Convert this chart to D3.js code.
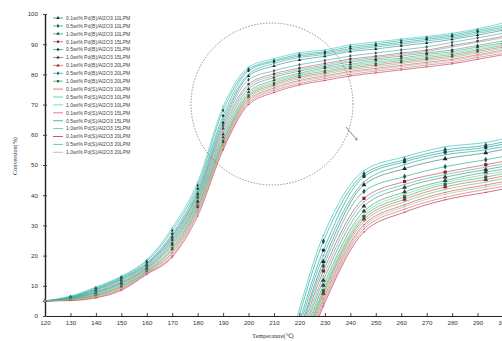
<!DOCTYPE html>
<html>
<head>
<meta charset="utf-8">
<script src="https://cdn.jsdelivr.net/npm/d3@7"></script>
<style>
  body { margin: 0; background: #fff; }
  svg { display: block; }
</style>
</head>
<body>
<div id="chart"></div>
<script>
const temps = [120, 130, 140, 150, 160, 170, 180, 190, 200, 210, 220, 230, 240, 250, 260, 270, 280, 290, 300];
const xTicks = [120, 130, 140, 150, 160, 170, 180, 190, 200, 210, 220, 230, 240, 250, 260, 270, 280, 290, 300];
const yTicks = [0, 10, 20, 30, 40, 50, 60, 70, 80, 90, 100];

const seriesNames = [
  "0.1wt% Pd(B)/Al2O3 10LPM", "0.5wt% Pd(B)/Al2O3 10LPM", "1.0wt% Pd(B)/Al2O3 10LPM",
  "0.1wt% Pd(B)/Al2O3 15LPM", "0.5wt% Pd(B)/Al2O3 15LPM", "1.0wt% Pd(B)/Al2O3 15LPM",
  "0.1wt% Pd(B)/Al2O3 20LPM", "0.5wt% Pd(B)/Al2O3 20LPM", "1.0wt% Pd(B)/Al2O3 20LPM",
  "0.1wt% Pd(S)/Al2O3 10LPM", "0.5wt% Pd(S)/Al2O3 10LPM", "1.0wt% Pd(S)/Al2O3 10LPM",
  "0.1wt% Pd(S)/Al2O3 15LPM", "0.5wt% Pd(S)/Al2O3 15LPM", "1.0wt% Pd(S)/Al2O3 15LPM",
  "0.1wt% Pd(S)/Al2O3 20LPM", "0.5wt% Pd(S)/Al2O3 20LPM", "1.0wt% Pd(S)/Al2O3 20LPM"
];

// conversion (%)
const c01 = [5, 6.0, 8.6, 12.1, 17.0, 26.2, 40.5, 64.0, 79.5, 82.8, 84.8, 86.0, 87.6, 88.4, 89.5, 90.4, 91.6, 93.0, 94.6];
const c02 = [5, 6.4, 9.3, 12.9, 18.2, 28.3, 43.2, 68.1, 81.7, 84.6, 86.6, 87.5, 89.2, 90.1, 91.2, 92.1, 93.1, 94.6, 96.2];
const c03 = [5, 5.6, 7.5, 10.6, 15.6, 23.6, 37.6, 59.2, 74.2, 78.1, 80.4, 82.1, 83.4, 84.6, 85.4, 86.6, 87.5, 89.1, 90.4];
const c04 = [5, 5.8, 8.0, 11.3, 16.3, 25.1, 39.2, 62.1, 76.8, 80.2, 82.1, 83.6, 85.1, 86.0, 87.1, 88.0, 89.6, 91.0, 92.6];
const c05 = [5, 6.2, 9.0, 12.6, 17.6, 27.2, 42.1, 66.3, 81.2, 84.2, 86.1, 87.1, 88.6, 89.6, 90.6, 91.6, 92.6, 94.1, 95.6];
const c06 = [5, 5.7, 7.7, 10.9, 15.8, 24.1, 38.1, 60.2, 75.2, 79.0, 81.1, 82.6, 84.1, 85.1, 86.1, 87.1, 88.1, 89.6, 91.1];
const c07 = [5, 5.5, 6.9, 9.8, 14.8, 22.1, 36.1, 57.6, 72.6, 76.6, 79.1, 80.6, 82.1, 83.1, 84.1, 85.1, 86.1, 87.6, 89.1];
const c08 = [5, 5.9, 8.3, 11.7, 16.7, 25.6, 40.0, 63.1, 78.2, 81.2, 83.2, 84.6, 86.1, 87.1, 88.1, 89.1, 90.6, 92.1, 93.6];
const c09 = [5, 5.5, 7.1, 10.1, 15.1, 22.6, 36.6, 58.1, 73.1, 77.1, 79.6, 81.1, 82.6, 83.6, 84.6, 85.6, 86.6, 88.1, 89.6];
const c10 = [5, 5.4, 6.6, 9.3, 14.4, 21.0, 35.0, 56.5, 71.5, 75.5, 78.0, 79.5, 81.0, 82.0, 83.0, 84.0, 85.0, 86.5, 88.0];
const c11 = [5, 6.6, 9.6, 13.2, 18.6, 29.2, 44.3, 69.3, 82.4, 85.2, 87.2, 88.1, 89.8, 90.7, 91.7, 92.6, 93.6, 95.1, 97.0];
const c12 = [5, 5.6, 7.3, 10.3, 15.3, 23.1, 37.1, 58.6, 73.6, 77.6, 80.0, 81.6, 83.0, 84.1, 85.0, 86.1, 87.0, 88.6, 90.0];
const c13 = [5, 5.2, 6.2, 8.8, 14.0, 20.0, 34.0, 55.6, 70.6, 74.6, 77.0, 78.6, 80.0, 81.1, 82.0, 83.1, 84.0, 85.6, 87.0];
const c14 = [5, 6.1, 8.8, 12.3, 17.3, 26.6, 41.2, 65.2, 80.1, 83.6, 85.6, 86.6, 88.1, 89.1, 90.1, 91.1, 92.1, 93.6, 95.1];
const c15 = [5, 5.4, 6.8, 9.6, 14.6, 21.6, 35.6, 57.1, 72.1, 76.1, 78.6, 80.1, 81.6, 82.6, 83.6, 84.6, 85.6, 87.1, 88.6];
const c16 = [5, 5.1, 6.0, 8.5, 13.8, 19.5, 33.1, 55.0, 70.0, 74.0, 76.5, 78.0, 79.5, 80.5, 81.5, 82.5, 83.5, 85.0, 86.5];
const c17 = [5, 5.8, 7.9, 11.0, 16.0, 24.6, 38.6, 61.1, 76.1, 79.6, 81.6, 83.1, 84.6, 85.6, 86.6, 87.6, 89.1, 90.6, 92.1];
const c18 = [5, 5.3, 6.4, 9.0, 14.2, 20.6, 34.6, 56.1, 71.1, 75.1, 77.6, 79.1, 80.6, 81.6, 82.6, 83.6, 84.6, 86.1, 87.6];
const seriesValues = [c01, c02, c03, c04, c05, c06, c07, c08, c09, c10, c11, c12, c13, c14, c15, c16, c17, c18];

const lineColors = ["#3d7f7a", "#19a59b", "#2fae7a", "#c9504d", "#1aa39a", "#6f8080",
  "#d0605d", "#22b2a2", "#42b072", "#e45252", "#33c4b4", "#78cc94",
  "#e46474", "#2aa8a0", "#5cbf7a", "#b23444", "#44bab2", "#9cbcac"];
const markerColors = ["#1b2b2b", "#1f4f4f", "#2f3f3f", "#8b1c2b", "#173b3b", "#333333",
  "#9b2335", "#2a5e5a", "#2e5e40", null, null, null, null, null, null, null, null, null];
const markerShapes = [d3.symbolTriangle, d3.symbolDiamond, d3.symbolTriangle, d3.symbolSquare,
  d3.symbolCircle, d3.symbolTriangle, d3.symbolTriangle, d3.symbolDiamond, d3.symbolSquare];

const width = 502, height = 341;

const svg = d3.select("#chart").append("svg")
  .attr("width", width)
  .attr("height", height)
  .style("font-family", "Liberation Serif, serif");

const x = d3.scaleLinear().domain([120, 300]).range([45, 503]);
const y = d3.scaleLinear().domain([0, 100]).range([316, 14]);

// inset = the circled region blown up
const xi = d3.scaleLinear().domain([184, 234]).range([299, 502]);
const yi = d3.scaleLinear().domain([53, 89]).range([316, 138]);

const series = seriesValues.map((vals, i) => ({
  name: seriesNames[i],
  i: i,
  points: temps.map((t, j) => ({ t: t, v: vals[j] }))
}));

// axes
const xAxis = d3.axisBottom(x).tickValues(xTicks).tickSizeInner(-3).tickSizeOuter(0).tickPadding(5);
const gx = svg.append("g").attr("transform", "translate(0,316)").call(xAxis);
gx.select(".domain").attr("stroke", "#222").attr("stroke-width", 1.2);
gx.selectAll(".tick line").attr("stroke", "#444");
gx.selectAll(".tick text").attr("font-size", 6.2).attr("fill", "#333");

const yAxis = d3.axisLeft(y).tickValues(yTicks).tickSizeInner(3).tickSizeOuter(0).tickPadding(4);
const gy = svg.append("g").attr("transform", "translate(45,0)").call(yAxis);
gy.select(".domain").attr("stroke", "#222").attr("stroke-width", 1.4);
gy.selectAll(".tick line").attr("stroke", "#444").attr("x2", 2).attr("x1", -2);
gy.selectAll(".tick text").attr("font-size", 6.2).attr("fill", "#333");

svg.append("text")
  .attr("x", 273).attr("y", 338)
  .attr("text-anchor", "middle")
  .attr("font-size", 6.2).attr("fill", "#333")
  .text("Temperature(℃)");

svg.append("text")
  .attr("transform", "translate(17,156) rotate(-90)")
  .attr("text-anchor", "middle")
  .attr("font-size", 6.2).attr("fill", "#333")
  .text("Conversion(%)");

function drawSeries(g, xs, ys, lw, ms) {
  const line = d3.line()
    .x(d => xs(d.t))
    .y(d => ys(d.v))
    .curve(d3.curveMonotoneX);

  g.selectAll("path.series")
    .data(series)
    .enter()
    .append("path")
      .attr("class", "series")
      .attr("fill", "none")
      .attr("stroke", d => lineColors[d.i])
      .attr("stroke-width", lw)
      .attr("opacity", 0.85)
      .attr("d", d => line(d.points));

  series.forEach(s => {
    const pts = g.append("g");
    if (markerColors[s.i]) {
      pts.selectAll("path")
        .data(s.points)
        .enter()
        .append("path")
          .attr("transform", d => "translate(" + xs(d.t) + "," + ys(d.v) + ")")
          .attr("d", d3.symbol().type(markerShapes[s.i]).size(ms))
          .attr("fill", markerColors[s.i]);
    } else {
      pts.selectAll("line")
        .data(s.points)
        .enter()
        .append("line")
          .attr("x1", d => xs(d.t) - 1).attr("x2", d => xs(d.t) + 1)
          .attr("y1", d => ys(d.v)).attr("y2", d => ys(d.v))
          .attr("stroke", lineColors[s.i])
          .attr("stroke-width", 0.8);
    }
  });
}

drawSeries(svg.append("g"), x, y, 0.7, 5);

svg.append("clipPath").attr("id", "insetClip")
  .append("rect").attr("x", 296).attr("y", 128).attr("width", 206).attr("height", 188);

const inset = svg.append("g").attr("clip-path", "url(#insetClip)");
drawSeries(inset, xi, yi, 0.8, 10);

// dashed circle + pointer
svg.append("circle")
  .attr("cx", 272).attr("cy", 104).attr("r", 81)
  .attr("fill", "none")
  .attr("stroke", "#666")
  .attr("stroke-width", 0.7)
  .attr("stroke-dasharray", "1.5,1.5");

svg.append("defs").append("marker")
  .attr("id", "arrow")
  .attr("viewBox", "0 0 6 6")
  .attr("refX", 5).attr("refY", 3)
  .attr("markerWidth", 4).attr("markerHeight", 4)
  .attr("orient", "auto")
  .append("path").attr("d", "M0,0L6,3L0,6").attr("fill", "none").attr("stroke", "#555");

svg.append("line")
  .attr("x1", 346).attr("y1", 127).attr("x2", 357).attr("y2", 140)
  .attr("stroke", "#555").attr("stroke-width", 0.7)
  .attr("marker-end", "url(#arrow)");

// legend
const legend = svg.append("g").attr("transform", "translate(53,18)");
const row = legend.selectAll("g")
  .data(series)
  .enter()
  .append("g")
    .attr("transform", (d, k) => "translate(0," + (k * 7.9) + ")");

row.append("line")
  .attr("x1", 0).attr("x2", 10)
  .attr("stroke", d => lineColors[d.i])
  .attr("stroke-width", 0.8);

row.filter(d => markerColors[d.i])
  .append("path")
    .attr("transform", "translate(5,0)")
    .attr("d", d => d3.symbol().type(markerShapes[d.i]).size(5)())
    .attr("fill", d => markerColors[d.i]);

row.append("text")
  .attr("x", 13).attr("y", 1.8)
  .attr("font-family", "Liberation Sans, sans-serif")
  .attr("font-size", 5.1)
  .attr("fill", "#444")
  .text(d => d.name);
</script>
</body>
</html>
